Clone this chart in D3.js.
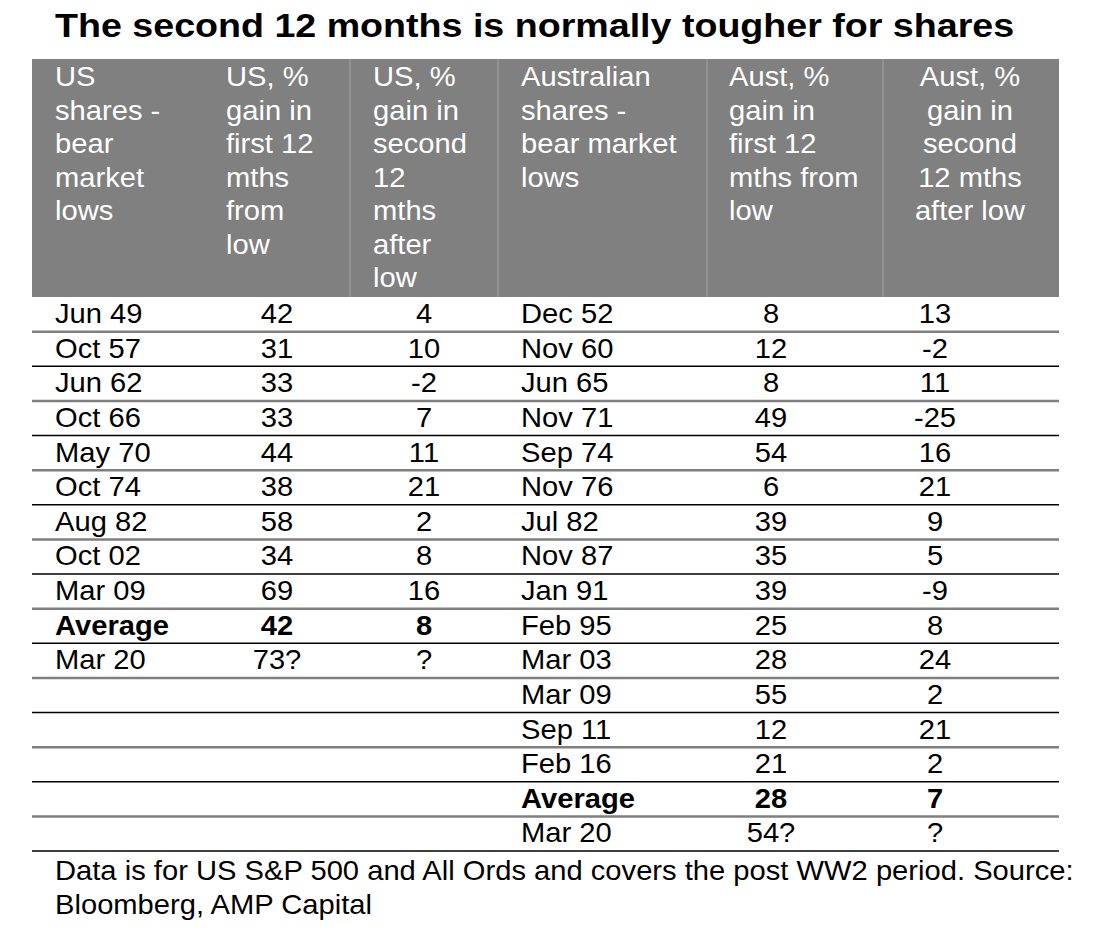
<!DOCTYPE html>
<html>
<head>
<meta charset="utf-8">
<script src="https://cdn.jsdelivr.net/npm/d3@7"></script>
<style>
  body { margin: 0; background: #fff; }
  text { font-family: "Liberation Sans", Arial, sans-serif; }
</style>
</head>
<body>
<svg id="chart"></svg>
<script>
// table data
var usLows = ["Jun 49", "Oct 57", "Jun 62", "Oct 66", "May 70", "Oct 74", "Aug 82", "Oct 02", "Mar 09", "Average", "Mar 20"];
var usFirst = ["42", "31", "33", "33", "44", "38", "58", "34", "69", "42", "73?"];
var usSecond = ["4", "10", "-2", "7", "11", "21", "2", "8", "16", "8", "?"];
var auLows = ["Dec 52", "Nov 60", "Jun 65", "Nov 71", "Sep 74", "Nov 76", "Jul 82", "Nov 87", "Jan 91", "Feb 95", "Mar 03", "Mar 09", "Sep 11", "Feb 16", "Average", "Mar 20"];
var auFirst = ["8", "12", "8", "49", "54", "6", "39", "35", "39", "25", "28", "55", "12", "21", "28", "54?"];
var auSecond = ["13", "-2", "11", "-25", "16", "21", "9", "5", "-9", "8", "24", "2", "21", "2", "7", "?"];

var headers = [
  ["US", "shares -", "bear", "market", "lows"],
  ["US, %", "gain in", "first 12", "mths", "from", "low"],
  ["US, %", "gain in", "second", "12", "mths", "after", "low"],
  ["Australian", "shares -", "bear market", "lows"],
  ["Aust, %", "gain in", "first 12", "mths from", "low"],
  ["Aust, %", "gain in", "second", "12 mths", "after low"]
];

var W = 1099, H = 937;
var left = 32, right = 1059;
var headTop = 59, headBottom = 297, tableBottom = 851;
var fs = 27.5;

var svg = d3.select("#chart").attr("width", W).attr("height", H);

// the source font runs a bit wider than Liberation Sans, so stretch the glyphs
function stretch(sel, k) {
  sel.each(function() {
    var len = this.getComputedTextLength();
    if (len > 0) {
      d3.select(this).attr("textLength", len * k).attr("lengthAdjust", "spacingAndGlyphs");
    }
  });
}

// title
svg.append("text")
  .attr("x", 55).attr("y", 37)
  .attr("font-size", 34).attr("font-weight", "bold")
  .text("The second 12 months is normally tougher for shares")
  .call(stretch, 1.106);

// header block
svg.append("rect")
  .attr("x", left).attr("y", headTop)
  .attr("width", right - left).attr("height", headBottom - headTop)
  .attr("fill", "#808080");

[350, 498, 707, 883].forEach(function(x) {
  svg.append("line")
    .attr("x1", x).attr("x2", x).attr("y1", headTop).attr("y2", headBottom)
    .attr("stroke", "#a3a3a3").attr("stroke-width", 1);
});

// header column settings: text x, anchor
var headCols = [
  {x: 55, anchor: "start"},
  {x: 226, anchor: "start"},
  {x: 373, anchor: "start"},
  {x: 521, anchor: "start"},
  {x: 729, anchor: "start"},
  {x: 970, anchor: "middle"}
];

headers.forEach(function(lines, c) {
  svg.append("g").selectAll("text")
    .data(lines)
    .enter()
    .append("text")
    .attr("x", headCols[c].x)
    .attr("y", function(d, i) { return 86 + i * 33.5; })
    .attr("text-anchor", headCols[c].anchor)
    .attr("font-size", fs)
    .attr("fill", "#fff")
    .text(function(d) { return d; })
    .call(stretch, 1.06);
});

// rows
var y = d3.scaleBand()
  .domain(d3.range(auLows.length))
  .range([headBottom, tableBottom]);

// row separators
svg.append("g").selectAll("line")
  .data(y.domain())
  .enter()
  .append("line")
  .attr("x1", left).attr("x2", right)
  .attr("y1", function(i) { return y(i) + y.bandwidth(); })
  .attr("y2", function(i) { return y(i) + y.bandwidth(); })
  .attr("stroke", function(i) { return i % 2 == 0 ? "#7f7f7f" : "#000"; })
  .attr("stroke-width", function(i) { return i % 2 == 0 ? 2.5 : 1.5; });

var bodyCols = [
  {data: usLows, x: 55, anchor: "start"},
  {data: usFirst, x: 277, anchor: "middle"},
  {data: usSecond, x: 424, anchor: "middle"},
  {data: auLows, x: 521, anchor: "start"},
  {data: auFirst, x: 771, anchor: "middle"},
  {data: auSecond, x: 935, anchor: "middle"}
];

bodyCols.forEach(function(col, c) {
  var lowsArr = c < 3 ? usLows : auLows;
  svg.append("g").selectAll("text")
    .data(col.data)
    .enter()
    .append("text")
    .attr("x", col.x)
    .attr("y", function(d, i) { return y(i) + 26; })
    .attr("text-anchor", col.anchor)
    .attr("font-size", fs)
    .attr("font-weight", function(d, i) { return lowsArr[i] == "Average" ? "bold" : "normal"; })
    .text(function(d) { return d; })
    .call(stretch, 1.06);
});

// footnote
svg.append("g").selectAll("text")
  .data(["Data is for US S&P 500 and All Ords and covers the post WW2 period. Source:", "Bloomberg, AMP Capital"])
  .enter()
  .append("text")
  .attr("x", 55)
  .attr("y", function(d, i) { return 880 + i * 34; })
  .attr("font-size", fs)
  .text(function(d) { return d; })
  .call(stretch, 1.06);
</script>
</body>
</html>
